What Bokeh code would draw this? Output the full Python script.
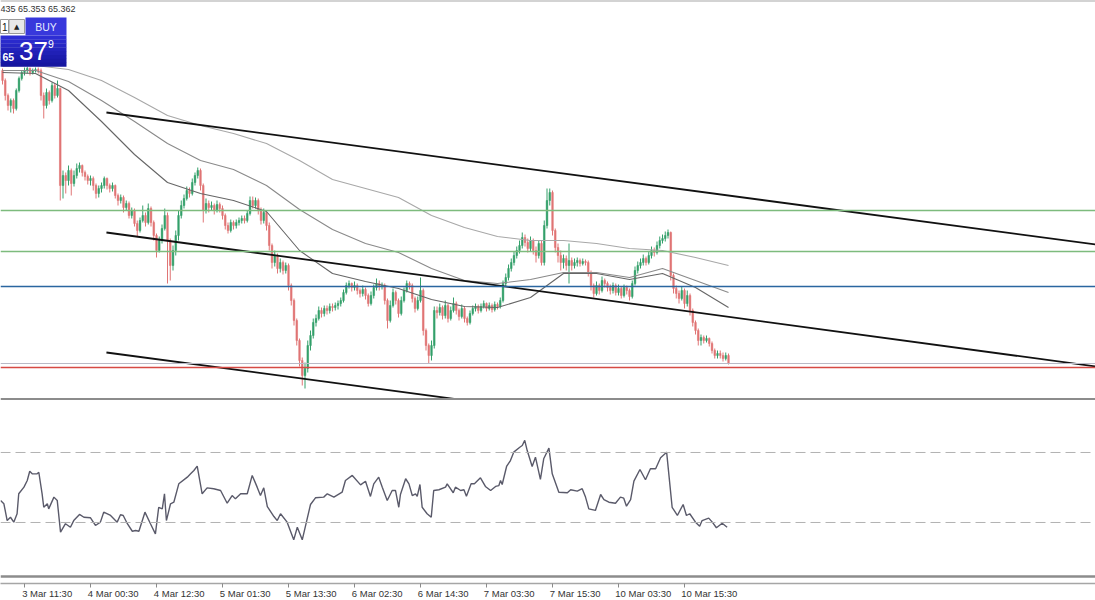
from bokeh.plotting import figure
from bokeh.layouts import column
from bokeh.models import Range1d, Span, FixedTicker, ColumnDataSource
from bokeh.core.properties import value
from bokeh.embed import file_html
from bokeh.resources import INLINE

# ---------------- data (30-minute bars) ----------------
first_open = 68.30
close = [
    68.20, 68.05, 67.95, 68.00, 67.92, 68.10, 68.22, 68.28, 68.30, 68.32,
    68.28, 68.30, 68.31, 68.30, 68.05, 67.95, 68.08, 68.00, 68.15, 68.05,
    68.12, 67.15, 67.25, 67.20, 67.30, 67.17, 67.25, 67.32, 67.35, 67.28,
    67.24, 67.20, 67.22, 67.15, 67.07, 67.12, 67.15, 67.22, 67.15, 67.12,
    67.15, 67.05, 67.00, 67.03, 66.93, 66.97, 66.85, 66.90, 66.77, 66.70,
    66.80, 66.85, 66.78, 66.92, 66.78, 66.65, 66.50, 66.60, 66.72, 66.85,
    66.60, 66.35, 66.50, 66.65, 66.85, 66.95, 67.02, 67.10, 67.07, 67.18,
    67.25, 67.30, 67.15, 66.90, 66.97, 66.93, 66.95, 66.90, 66.96, 66.92,
    66.85, 66.75, 66.70, 66.78, 66.75, 66.78, 66.80, 66.82, 66.80, 66.87,
    67.00, 66.95, 67.00, 66.90, 66.80, 66.88, 66.75, 66.55, 66.38, 66.45,
    66.32, 66.38, 66.30, 66.35, 66.15, 66.00, 65.80, 65.60, 65.40, 65.25,
    65.32, 65.55, 65.65, 65.78, 65.82, 65.90, 65.87, 65.92, 65.90, 65.94,
    65.93, 65.95, 65.97, 66.00, 66.08, 66.15, 66.17, 66.13, 66.15, 66.10,
    66.07, 66.11, 66.05, 65.97, 66.05, 66.13, 66.17, 66.14, 66.15, 66.00,
    65.80, 65.95, 66.08, 66.00, 65.87, 66.00, 66.10, 66.17, 66.15, 66.02,
    65.92, 66.00, 66.10, 65.70, 65.55, 65.45, 65.55, 65.90, 65.88, 65.93,
    65.85, 65.95, 65.82, 65.90, 65.97, 65.90, 65.84, 65.92, 65.82, 65.78,
    65.87, 65.92, 65.94, 65.90, 65.94, 65.97, 65.92, 65.95, 65.91, 65.96,
    65.94, 66.00, 66.17, 66.23, 66.32, 66.38, 66.45, 66.50, 66.55, 66.63,
    66.58, 66.52, 66.60, 66.50, 66.45, 66.57, 66.38, 66.75, 67.00, 67.08,
    66.70, 66.53, 66.45, 66.38, 66.42, 66.35, 66.40, 66.35, 66.38, 66.40,
    66.37, 66.39, 66.38, 66.28, 66.15, 66.07, 66.15, 66.10, 66.20, 66.17,
    66.13, 66.10, 66.15, 66.08, 66.12, 66.05, 66.13, 66.10, 66.04, 66.17,
    66.30, 66.35, 66.38, 66.42, 66.38, 66.45, 66.50, 66.48, 66.55, 66.60,
    66.62, 66.65, 66.68, 66.25, 66.12, 66.07, 66.02, 66.10, 65.97, 66.05,
    65.90, 65.78, 65.70, 65.60, 65.63, 65.60, 65.62, 65.57, 65.50, 65.45,
    65.47, 65.45, 65.42, 65.45, 65.37,
]
high = [
    68.32, 68.22, 68.07, 68.02, 68.02, 68.12, 68.24, 68.30, 68.33, 68.34,
    68.33, 68.32, 68.33, 68.33, 68.32, 68.08, 68.12, 68.10, 68.18, 68.17,
    68.20, 68.13, 67.30, 67.28, 67.35, 67.32, 67.30, 67.37, 67.38, 67.36,
    67.30, 67.26, 67.25, 67.24, 67.17, 67.15, 67.18, 67.24, 67.23, 67.17,
    67.18, 67.16, 67.07, 67.06, 67.05, 67.00, 66.99, 66.93, 66.92, 66.80,
    66.83, 66.95, 66.88, 66.97, 66.94, 66.80, 66.67, 66.64, 66.76, 66.92,
    66.88, 66.62, 66.55, 66.70, 66.90, 67.00, 67.06, 67.14, 67.13, 67.22,
    67.28, 67.33, 67.32, 67.17, 67.02, 67.00, 66.99, 66.97, 67.00, 66.98,
    66.95, 66.87, 66.78, 66.81, 66.80, 66.81, 66.83, 66.85, 66.85, 66.90,
    67.04, 67.04, 67.03, 67.02, 66.93, 66.92, 66.90, 66.78, 66.57, 66.50,
    66.47, 66.42, 66.40, 66.38, 66.37, 66.17, 66.02, 65.82, 65.62, 65.43,
    65.38, 65.60, 65.70, 65.82, 65.86, 65.94, 65.93, 65.95, 65.95, 65.97,
    65.97, 65.98, 66.00, 66.03, 66.11, 66.18, 66.20, 66.18, 66.19, 66.17,
    66.12, 66.15, 66.13, 66.07, 66.09, 66.16, 66.22, 66.20, 66.18, 66.17,
    66.02, 66.00, 66.12, 66.10, 66.02, 66.04, 66.13, 66.20, 66.19, 66.17,
    66.04, 66.04, 66.23, 66.12, 65.72, 65.57, 65.60, 65.94, 65.94, 65.97,
    65.95, 66.00, 65.97, 65.94, 66.03, 65.99, 65.92, 65.96, 65.94, 65.84,
    65.90, 65.95, 65.97, 65.96, 65.97, 66.00, 65.98, 65.98, 65.97, 65.99,
    65.98, 66.03, 66.20, 66.27, 66.36, 66.42, 66.49, 66.54, 66.60, 66.68,
    66.66, 66.62, 66.64, 66.62, 66.54, 66.60, 66.60, 66.80, 67.12, 67.12,
    67.10, 66.72, 66.57, 66.50, 66.46, 66.45, 66.57, 66.43, 66.42, 66.43,
    66.42, 66.42, 66.41, 66.40, 66.30, 66.17, 66.19, 66.17, 66.24, 66.22,
    66.19, 66.16, 66.18, 66.17, 66.16, 66.14, 66.16, 66.15, 66.12, 66.20,
    66.34, 66.39, 66.42, 66.46, 66.44, 66.49, 66.54, 66.53, 66.59, 66.64,
    66.66, 66.69, 66.71, 66.69, 66.27, 66.15, 66.10, 66.14, 66.12, 66.10,
    66.07, 65.92, 65.80, 65.72, 65.66, 65.65, 65.65, 65.63, 65.59, 65.52,
    65.50, 65.50, 65.48, 65.48, 65.47,
]
low = [
    68.16, 68.00, 67.90, 67.88, 67.87, 67.90, 68.08, 68.20, 68.25, 68.27,
    68.25, 68.26, 68.28, 68.27, 68.00, 67.82, 67.92, 67.96, 67.98, 68.02,
    68.03, 67.00, 67.02, 67.07, 67.15, 67.05, 67.14, 67.22, 67.28, 67.24,
    67.20, 67.16, 67.15, 67.10, 67.02, 67.03, 67.08, 67.12, 67.11, 67.08,
    67.09, 67.02, 66.95, 66.97, 66.88, 66.90, 66.82, 66.82, 66.74, 66.64,
    66.68, 66.78, 66.74, 66.76, 66.74, 66.60, 66.43, 66.48, 66.57, 66.70,
    66.17, 66.20, 66.30, 66.45, 66.60, 66.82, 66.92, 67.00, 67.03, 67.05,
    67.15, 67.22, 67.10, 66.78, 66.87, 66.88, 66.90, 66.86, 66.88, 66.88,
    66.81, 66.71, 66.67, 66.68, 66.71, 66.72, 66.75, 66.77, 66.77, 66.78,
    66.85, 66.92, 66.92, 66.86, 66.76, 66.77, 66.70, 66.50, 66.32, 66.34,
    66.27, 66.28, 66.26, 66.27, 66.10, 65.95, 65.75, 65.55, 65.34, 65.15,
    65.12, 65.28, 65.50, 65.62, 65.74, 65.80, 65.83, 65.84, 65.86, 65.87,
    65.89, 65.90, 65.91, 65.94, 65.98, 66.06, 66.12, 66.09, 66.10, 66.06,
    66.03, 66.04, 66.01, 65.94, 65.95, 66.02, 66.10, 66.10, 66.11, 65.96,
    65.72, 65.78, 65.93, 65.96, 65.83, 65.85, 65.98, 66.08, 66.11, 65.98,
    65.88, 65.90, 65.98, 65.65, 65.50, 65.37, 65.40, 65.52, 65.82, 65.85,
    65.81, 65.82, 65.78, 65.80, 65.88, 65.86, 65.80, 65.82, 65.78, 65.75,
    65.76, 65.85, 65.89, 65.87, 65.88, 65.92, 65.89, 65.90, 65.88, 65.89,
    65.91, 65.92, 65.98, 66.14, 66.20, 66.29, 66.35, 66.42, 66.47, 66.52,
    66.54, 66.48, 66.49, 66.46, 66.38, 66.42, 66.35, 66.35, 66.72, 66.95,
    66.65, 66.48, 66.38, 66.30, 66.32, 66.30, 66.17, 66.30, 66.32, 66.34,
    66.34, 66.35, 66.35, 66.24, 66.10, 66.03, 66.05, 66.06, 66.08, 66.13,
    66.09, 66.06, 66.07, 66.05, 66.05, 66.02, 66.03, 66.06, 66.00, 66.02,
    66.15, 66.27, 66.32, 66.35, 66.35, 66.36, 66.42, 66.44, 66.46, 66.52,
    66.57, 66.59, 66.62, 66.20, 66.07, 66.02, 65.97, 66.00, 65.92, 65.94,
    65.85, 65.74, 65.66, 65.55, 65.55, 65.57, 65.58, 65.54, 65.47, 65.42,
    65.42, 65.42, 65.39, 65.40, 65.36,
]

# moving averages, read every 12 bars
ma_bars = list(range(0, 265, 12))
ma_slow = [68.34, 68.35, 68.31, 68.20, 68.03, 67.85, 67.75, 67.67, 67.57, 67.40, 67.21, 67.12,
           67.03, 66.85, 66.73, 66.64, 66.60, 66.60, 66.57, 66.52, 66.50, 66.43, 66.35]
ma_mid = [68.30, 68.30, 68.19, 68.00, 67.79, 67.57, 67.40, 67.31, 67.15, 66.91, 66.71, 66.57,
          66.48, 66.32, 66.20, 66.17, 66.21, 66.28, 66.28, 66.23, 66.32, 66.20, 66.08]
ma_fast = [68.28, 68.27, 68.10, 67.79, 67.46, 67.18, 67.07, 67.00, 66.89, 66.50, 66.27, 66.19,
           66.12, 66.01, 65.94, 65.93, 66.03, 66.27, 66.27, 66.21, 66.27, 66.13, 65.93]

# horizontal levels: two green, one blue, bid, ask
level_prices = [66.90, 66.49, 66.14, 65.37, 65.33]

# channel trend lines (two anchor points each)
channel_bars = [37.8, 397.5]
channel_upper = [67.88, 66.56]
channel_middle = [66.68, 65.34]
channel_lower = [65.48, 64.16]

# RSI
rsi_bar = [
    -0.7, 0.5, 1.7, 2.9, 4.1, 5.3, 5.9, 7.8, 9.0, 9.9,
    10.8, 12.6, 13.2, 14.4, 15.0, 16.3, 16.8, 18.7, 19.9, 21.1,
    22.9, 24.7, 25.9, 28.0, 29.6, 32.0, 33.8, 35.6, 36.8, 39.3,
    41.7, 42.9, 43.9, 45.4, 47.2, 48.4, 49.6, 51.8, 53.8, 55.6,
    56.8, 58.1, 58.9, 59.6, 61.1, 62.3, 64.1, 67.2, 68.4, 69.6,
    70.8, 72.6, 74.4, 76.8, 79.3, 81.7, 83.5, 84.7, 86.6, 89.0,
    90.8, 92.6, 93.8, 95.0, 96.3, 98.7, 99.9, 101.1, 103.5, 105.9,
    107.2, 109.0, 112.0, 113.8, 116.8, 118.1, 120.5, 123.5, 124.7, 127.2,
    130.2, 132.0, 133.8, 135.0, 136.8, 138.1, 139.9, 141.7, 142.9, 144.1,
    144.7, 146.6, 147.8, 149.0, 150.2, 150.8, 151.8, 152.6, 154.4, 155.9,
    156.8, 158.7, 161.1, 161.7, 163.9, 164.7, 166.6, 167.8, 168.7, 170.4,
    171.6, 173.8, 175.6, 177.5, 179.3, 180.5, 181.1, 181.7, 183.3, 184.7,
    185.9, 188.1, 189.0, 189.9, 190.8, 192.6, 193.8, 195.6, 196.8, 198.7,
    199.9, 202.3, 205.4, 206.6, 209.0, 210.8, 212.0, 213.2, 215.6, 217.5,
    218.7, 220.5, 222.9, 224.7, 225.9, 226.9, 228.4, 229.6, 231.8, 233.8,
    235.6, 237.5, 239.3, 241.5, 243.5, 245.4, 247.5, 248.7, 249.9, 252.0,
    253.5, 254.4, 256.8, 258.1, 259.6, 261.7, 263.5,
]
rsi_val = [
    42.6, 40.7, 31.1, 33.0, 30.2, 35.0, 46.4, 50.2, 54.0, 59.3,
    57.8, 57.8, 58.7, 46.4, 38.7, 40.7, 37.8, 44.5, 42.6, 24.5,
    29.3, 27.3, 31.1, 34.6, 33.0, 32.7, 28.3, 30.2, 35.9, 34.0,
    30.2, 34.4, 34.0, 29.3, 25.0, 25.4, 25.0, 35.9, 29.3, 23.5,
    38.7, 37.8, 46.4, 31.1, 40.7, 41.6, 52.1, 55.9, 57.8, 59.7,
    62.2, 46.4, 49.8, 49.3, 48.3, 41.0, 45.4, 43.5, 46.4, 46.4,
    56.9, 50.2, 45.4, 49.8, 39.1, 33.4, 31.1, 35.0, 30.2, 20.1,
    27.3, 20.1, 40.3, 44.1, 44.5, 46.4, 44.5, 47.3, 54.0, 56.9,
    51.5, 53.6, 44.9, 52.1, 55.9, 50.2, 42.6, 48.3, 48.3, 38.7,
    46.0, 55.0, 52.1, 45.4, 46.4, 44.9, 51.7, 38.7, 35.0, 33.0,
    48.3, 48.7, 50.2, 52.1, 47.0, 50.2, 48.3, 48.7, 45.0, 52.1,
    52.1, 55.5, 50.6, 48.3, 50.6, 51.1, 54.0, 51.7, 62.0, 65.4,
    70.2, 73.0, 74.0, 76.9, 71.1, 62.0, 67.3, 54.6, 66.4, 72.5,
    57.8, 47.3, 47.0, 48.7, 47.9, 49.3, 44.5, 37.8, 36.9, 46.0,
    43.1, 41.6, 41.0, 44.5, 43.9, 39.3, 43.0, 53.6, 60.3, 54.4,
    60.7, 60.7, 67.0, 70.2, 38.7, 34.0, 40.3, 34.0, 35.0, 30.2,
    27.9, 31.1, 32.5, 30.2, 27.0, 29.6, 27.3,
]
rsi_levels = [70, 30]

# time axis (bar index of each labelled bar)
tick_bars = [8, 32, 56, 80, 104, 128, 152, 176, 200, 224, 248]
tick_labels = ["3 Mar 11:30", "4 Mar 00:30", "4 Mar 12:30", "5 Mar 01:30", "5 Mar 13:30",
               "6 Mar 02:30", "6 Mar 14:30", "7 Mar 03:30", "7 Mar 15:30", "10 Mar 03:30",
               "10 Mar 15:30"]

header_text = "435 65.353 65.362"
buy_text = "BUY"
quote_small, quote_big, quote_sup = "65", "37", "9"
lot_text = "1"

# ---------------- layout / style ----------------
W = 1095
MAIN_H = 400
RSI_H = 183
X_START, X_END = -0.73, 397.45
P_LO, P_HI = 65.00, 69.00
R_LO, R_HI = -4.86, 99.71
RSI_FRAME_LINE = -0.86
FONT = "Liberation Sans"
AXIS_FONT = "Liberation Sans"
GREEN, RED = "#34a06b", "#e07575"

assert len(close) == len(high) == len(low)
assert len(rsi_bar) == len(rsi_val)

n = len(close)
opens = [first_open] + close[:-1]
xs = list(range(n))
src = ColumnDataSource(dict(
    x=xs,
    top=[max(o, c) for o, c in zip(opens, close)],
    bottom=[min(o, c) for o, c in zip(opens, close)],
    high=[max(h, o, c) for h, o, c in zip(high, opens, close)],
    low=[min(l, o, c) for l, o, c in zip(low, opens, close)],
    color=[GREEN if c >= o else RED for o, c in zip(opens, close)],
))

main = figure(frame_width=W, frame_height=MAIN_H,
              x_range=Range1d(X_START, X_END), y_range=Range1d(P_LO, P_HI),
              x_axis_location=None, y_axis_location=None, min_border=0,
              tools="", toolbar_location=None, output_backend="svg",
              outline_line_color=None, background_fill_color="white",
              border_fill_color="white")
main.xgrid.visible = False
main.ygrid.visible = False

main.segment(x0="x", y0="low", x1="x", y1="high", line_color="color", line_width=1, source=src)
main.vbar(x="x", width=0.6, top="top", bottom="bottom", fill_color="color",
          line_color="color", line_width=0.5, source=src)

main.line(ma_bars, ma_slow, line_color="#a8a8a8", line_width=1.1)
main.line(ma_bars, ma_mid, line_color="#8a8a8a", line_width=1.1)
main.line(ma_bars, ma_fast, line_color="#666666", line_width=1.1)

level_styles = [("#7dbb7d", 1.5), ("#7dbb7d", 1.5), ("#2a66a0", 1.6), ("#b9b9c6", 1.0), ("#d64a44", 1.5)]
for price, (col, lw) in zip(level_prices, level_styles):
    main.add_layout(Span(location=price, dimension="width", line_color=col, line_width=lw))

for ys in (channel_upper, channel_middle, channel_lower):
    main.line(channel_bars, ys, line_color="#111111", line_width=1.8)

# window frame lines
main.add_layout(Span(location=P_HI, dimension="width", line_color="#a8a8a8", line_width=2))
main.add_layout(Span(location=P_LO, dimension="width", line_color="#8c8c8c", line_width=5))


# one-click trading panel (screen overlay placed relative to the window)
def rx(px):
    return X_START + px / W * (X_END - X_START)


def ry(py):
    return P_HI - py / MAIN_H * (P_HI - P_LO)


main.text(x=[rx(0)], y=[ry(8.5)], text=[header_text], text_font=value(FONT),
          text_font_size="9px", text_color="#333333", text_align="left",
          text_baseline="middle")

main.quad(left=[rx(25)], right=[rx(66)], top=[ry(17)], bottom=[ry(35)],
          fill_color="#3838dc", line_color=None, level="overlay")
bands = 8
for i in range(bands):
    t = i / (bands - 1)
    r = int(46 + (22 - 46) * t)
    b = int(212 + (160 - 212) * t)
    y0 = 35 + i * (31 / bands)
    main.quad(left=[rx(0)], right=[rx(66)], top=[ry(y0)], bottom=[ry(y0 + 31 / bands + 0.3)],
              fill_color="#%02x%02x%02x" % (r, r, b), line_color=None, level="overlay")
main.quad(left=[rx(0)], right=[rx(8)], top=[ry(19)], bottom=[ry(33)],
          fill_color="white", line_color="#9a9a9a", line_width=1, level="overlay")
main.quad(left=[rx(8.5)], right=[rx(24)], top=[ry(19)], bottom=[ry(33)],
          fill_color="#e8e8e8", line_color="#9a9a9a", line_width=1, level="overlay")
main.text(x=[rx(16.3)], y=[ry(26.5)], text=["\u25b2"], text_font=value("DejaVu Sans"),
          text_font_size="7px", text_color="#222222", text_align="center",
          text_baseline="middle", level="overlay")
main.text(x=[rx(7)], y=[ry(26.5)], text=[lot_text], text_font=value(FONT),
          text_font_size="10px", text_color="#111111", text_align="right",
          text_baseline="middle", level="overlay")
main.text(x=[rx(45.5)], y=[ry(26.5)], text=[buy_text], text_font=value(FONT),
          text_font_size="10.5px", text_color="#e4e9ff", text_align="center",
          text_baseline="middle", level="overlay")
main.text(x=[rx(2)], y=[ry(56.5)], text=[quote_small], text_font=value(FONT),
          text_font_size="10.5px", text_font_style="bold", text_color="white",
          text_align="left", text_baseline="middle", level="overlay")
main.text(x=[rx(18.5)], y=[ry(50.5)], text=[quote_big], text_font=value(FONT),
          text_font_size="26px", text_color="white", text_align="left",
          text_baseline="middle", level="overlay")
main.text(x=[rx(47.5)], y=[ry(43.5)], text=[quote_sup], text_font=value(FONT),
          text_font_size="10.5px", text_color="white", text_align="left",
          text_baseline="middle", level="overlay")

# ---------------- RSI window ----------------
rsi = figure(frame_width=W, frame_height=RSI_H, x_range=main.x_range,
             y_range=Range1d(R_LO, R_HI), y_axis_location=None, min_border=0,
             tools="", toolbar_location=None, output_backend="svg",
             outline_line_color=None, background_fill_color="white",
             border_fill_color="white")
rsi.xgrid.visible = False
rsi.ygrid.visible = False
for lv in rsi_levels:
    rsi.add_layout(Span(location=lv, dimension="width", line_color="#b3b3b3",
                        line_dash="10 5", line_width=1))
rsi.line(rsi_bar, rsi_val, line_color="#5a5a6a", line_width=1.4)
rsi.add_layout(Span(location=RSI_FRAME_LINE, dimension="width", line_color="#8c8c8c", line_width=2.5))

label_centers = [round(b + 0.75 * len(t), 2) for b, t in zip(tick_bars, tick_labels)]
ax = rsi.xaxis[0]
ax.ticker = FixedTicker(ticks=label_centers, minor_ticks=tick_bars)
ax.major_label_overrides = {c: t for c, t in zip(label_centers, tick_labels)}
ax.axis_line_color = "#a6a6a6"
ax.axis_line_width = 1.3
ax.major_tick_line_color = None
ax.major_tick_out = 0
ax.major_tick_in = 0
ax.minor_tick_line_color = "#8a8a8a"
ax.minor_tick_out = 4
ax.minor_tick_in = 0
ax.major_label_standoff = 0
ax.major_label_text_font = AXIS_FONT
ax.major_label_text_font_size = "9.5px"
ax.major_label_text_color = "#333333"

layout = column(main, rsi, spacing=0)
open("out.html", "w").write(file_html(layout, INLINE, title="chart"))
